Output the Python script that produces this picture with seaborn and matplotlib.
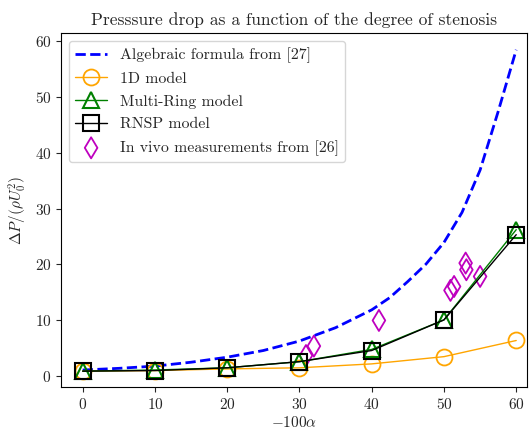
import matplotlib

matplotlib.use("Agg")
import matplotlib.pyplot as plt
import pandas as pd
import seaborn as sns

# stenosis degree (-100 alpha)
x_models = [0, 10, 20, 30, 40, 50, 60]
dp_1d = [0.8, 0.9, 1.2, 1.4, 2.1, 3.4, 6.3]
dp_multiring = [0.8, 1.0, 1.4, 2.5, 4.7, 10.0, 26.2]
dp_rnsp = [0.8, 0.9, 1.4, 2.5, 4.5, 10.0, 25.3]

# algebraic formula curve
x_formula = [0, 5, 10, 15, 20, 25, 30, 35, 40, 42.5, 45, 47.5, 50, 52.5, 55, 57.5, 60]
dp_formula = [1.0, 1.3, 1.7, 2.4, 3.3, 4.5, 6.2, 8.6, 11.8, 14.0, 16.9, 20.0,
              23.9, 29.3, 36.9, 47.4, 58.5]

# in vivo measurements
x_vivo = [30.9, 32.0, 41.0, 50.9, 51.4, 53.0, 53.1, 55.0]
dp_vivo = [3.6, 5.3, 9.9, 15.3, 16.0, 20.2, 19.0, 17.8]

sns.set_style("ticks")
plt.rcParams["font.family"] = "serif"
plt.rcParams["font.serif"] = ["cmr10", "DejaVu Serif"]
plt.rcParams["mathtext.fontset"] = "cm"
plt.rcParams["axes.formatter.use_mathtext"] = True
plt.rcParams["axes.unicode_minus"] = False

fig = plt.figure(figsize=(5.32, 4.29), dpi=100)
ax = fig.add_axes([0.1147, 0.0979, 0.876, 0.825])

sns.lineplot(x=x_formula, y=dp_formula, ax=ax, color="blue", linestyle="--",
             linewidth=2, label="Algebraic formula from [27]")
sns.lineplot(x=x_models, y=dp_1d, ax=ax, color="orange", linewidth=1,
             marker="o", markersize=11.5, markerfacecolor="none",
             markeredgecolor="orange", markeredgewidth=1.3, label="1D model")
sns.lineplot(x=x_models, y=dp_multiring, ax=ax, color="green", linewidth=1,
             marker="^", markersize=12, markerfacecolor="none",
             markeredgecolor="green", markeredgewidth=1.5, label="Multi-Ring model")
sns.lineplot(x=x_models, y=dp_rnsp, ax=ax, color="black", linewidth=1,
             marker="s", markersize=12, markerfacecolor="none",
             markeredgecolor="black", markeredgewidth=1.5, label="RNSP model")
sns.scatterplot(x=x_vivo, y=dp_vivo, ax=ax, marker="d", s=115,
                facecolors="none", edgecolor="m", linewidth=1.3,
                label="In vivo measurements from [26]")

ax.set_xlim(-3, 61.5)
ax.set_ylim(-2.05, 61.5)
ax.set_xticks([0, 10, 20, 30, 40, 50, 60])
ax.set_yticks([0, 10, 20, 30, 40, 50, 60])
ax.tick_params(labelsize=11)
for s in ax.spines.values():
    s.set_color("black")
ax.set_xlabel(r"$-100\alpha$", fontsize=11, labelpad=2)
ax.set_ylabel(r"$\Delta P/(\rho U_0^2)$", fontsize=11)
ax.set_title("Presssure drop as a function of the degree of stenosis", fontsize=12.6)
ax.legend(loc="upper left", fontsize=11.4, framealpha=0.8, labelspacing=0.55)

fig.savefig("out.png", dpi=100)
